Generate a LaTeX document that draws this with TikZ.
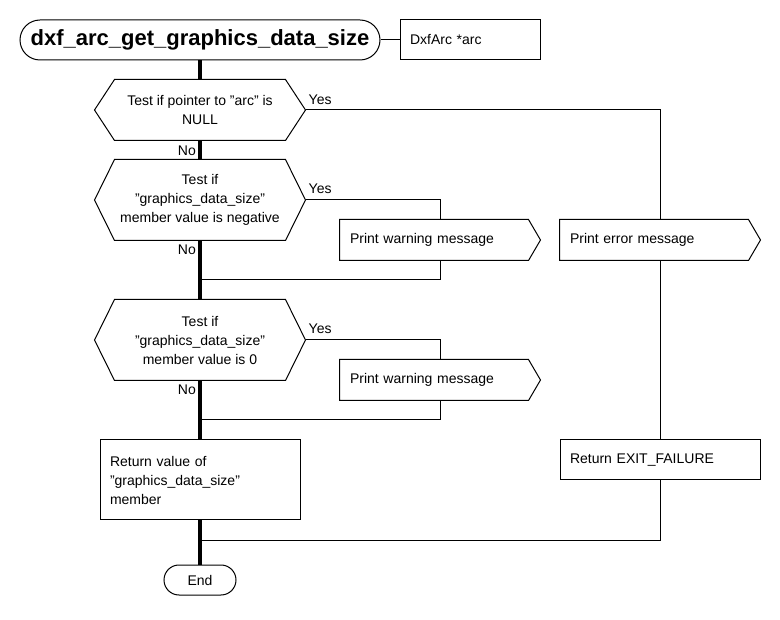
\documentclass[tikz,border=0pt]{standalone}
\usepackage{fontspec}
\setmainfont{Liberation Sans}
\begin{document}
\begin{tikzpicture}[x=1pt,y=-1pt,
  basetext/.style={font=\fontsize{14}{19}\selectfont, inner sep=0pt, line width=1pt},
  term/.style={basetext, draw, rounded corners=#1, fill=white},
  procbox/.style={basetext, draw, fill=white, align=left, inner xsep=10pt},
  hexbox/.style={basetext, draw=none, align=center},
  outbox/.style={basetext, draw=none, align=left, text width=180pt, inner xsep=10pt, minimum height=40pt},
  lbl/.style={font=\fontsize{14}{17}\selectfont, inner sep=0pt},
  thinline/.style={line width=1pt},
  spine/.style={line width=3.6pt}]
\fill[white] (0,0) rectangle (780,620);
\useasboundingbox (0,0) rectangle (780,620);

% nodes
\node[term=20pt, minimum width=360pt, minimum height=40pt, font=\bfseries\fontsize{22}{26}\selectfont] (title) at (200,40) {dxf\_arc\_get\_graphics\_data\_size};
\node[procbox, text width=120pt, minimum height=40pt] (param) at (470,40) {DxfArc *arc};

\node[hexbox, minimum width=210pt, minimum height=60pt] (d1) at (200,110) {Test if pointer to "arc" is\\NULL};
\node[hexbox, minimum width=210pt, minimum height=80pt] (d2) at (200,200) {Test if\\"graphics\_data\_size"\\member value is negative};
\node[hexbox, minimum width=210pt, minimum height=80pt] (d3) at (200,340) {Test if\\"graphics\_data\_size"\\member value is 0};

\node[outbox] (w1) at (440,240) {Print warning message};
\node[outbox] (e1) at (660,240) {Print error message};
\node[outbox] (w2) at (440,380) {Print warning message};

\node[procbox, text width=180pt, minimum height=80pt] (r1) at (200,480) {Return value of\\"graphics\_data\_size"\\member};
\node[procbox, text width=180pt, minimum height=40pt] (r2) at (660,460) {Return EXIT\_FAILURE};

\node[term=15pt, minimum width=72pt, minimum height=30pt] (end) at (200,580) {End};

% outlines of decisions and outputs
\foreach \n in {d1,d2,d3}{
  \draw[thinline] (\n.west) -- ([xshift=20pt]\n.north west) -- ([xshift=-20pt]\n.north east) -- (\n.east)
    -- ([xshift=-20pt]\n.south east) -- ([xshift=20pt]\n.south west) -- cycle;
}
\foreach \n in {w1,e1,w2}{
  \draw[thinline] (\n.north west) -- ([xshift=-12pt]\n.north east) -- (\n.east)
    -- ([xshift=-12pt]\n.south east) -- (\n.south west) -- cycle;
}

% junction points
\coordinate (j2) at (200,280);
\coordinate (j3) at (200,420);
\coordinate (j4) at (200,540);

% connectors
\draw[spine] (title.south) -- (d1.north);
\draw[spine] (d1.south) -- (d2.north);
\draw[spine] (d2.south) -- (d3.north);
\draw[spine] (d3.south) -- (r1.north);
\draw[spine] (r1.south) -- (end.north);
\draw[thinline] (title.east) -- (param.west);

\draw[thinline] (d1.east) -| (e1.north);
\draw[thinline] (e1.south) -- (r2.north);
\draw[thinline] (r2.south) |- (j4);

\draw[thinline] (d2.east) -| (w1.north);
\draw[thinline] (w1.south) |- (j2);
\draw[thinline] (d3.east) -| (w2.north);
\draw[thinline] (w2.south) |- (j3);

% labels
\node[lbl, anchor=base west] (y1) at ([xshift=3pt,yshift=5pt]d1.east) {Yes};
\node[lbl, anchor=base west] (y2) at ([xshift=3pt,yshift=6pt]d2.east) {Yes};
\node[lbl, anchor=base west] (y3) at ([xshift=3pt,yshift=6pt]d3.east) {Yes};
\node[lbl, anchor=base east] (n1) at ([xshift=-4pt,yshift=-15pt]d1.south) {No};
\node[lbl, anchor=base east] (n2) at ([xshift=-4pt,yshift=-14pt]d2.south) {No};
\node[lbl, anchor=base east] (n3) at ([xshift=-4pt,yshift=-14pt]d3.south) {No};
\end{tikzpicture}
\end{document}
